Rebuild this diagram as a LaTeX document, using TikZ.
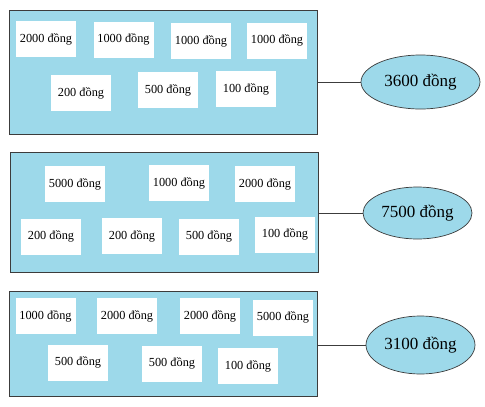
\documentclass[tikz,border=0pt]{standalone}
\usepackage{fontspec}
\setmainfont{Liberation Serif}
\usetikzlibrary{shapes.geometric}
\definecolor{panelblue}{RGB}{157,217,234}
\definecolor{edgegray}{RGB}{60,60,60}
\tikzset{
  panel/.style={draw=edgegray, line width=0.9pt, fill=panelblue, inner sep=0pt},
  coin/.style={fill=white, inner sep=0pt, minimum width=60pt, minimum height=36pt, font=\fontsize{12.3}{14}\selectfont},
  total/.style={ellipse, draw=edgegray, line width=0.7pt, fill=panelblue, inner sep=0pt, font=\fontsize{17}{20}\selectfont},
  link/.style={draw=edgegray, line width=0.9pt}
}
\begin{document}
\begin{tikzpicture}[x=1pt,y=-1pt]
\useasboundingbox (0,0) rectangle (485,407);
% panel 1
\node[panel, minimum width=308pt, minimum height=124pt] (p1) at (163,72) {};
\node[coin] (a1) at (46,39) {2000 đồng};
\node[coin] (a2) at (123.5,39.5) {1000 đồng};
\node[coin] (a3) at (201,41) {1000 đồng};
\node[coin] (a4) at (277,40.5) {1000 đồng};
\node[coin] (a5) at (81,93) {200 đồng};
\node[coin] (a6) at (168,90) {500 đồng};
\node[coin] (a7) at (246,89) {100 đồng};
\node[total, minimum width=119pt, minimum height=54pt] (e1) at (420.5,82) {3600 đồng};
\draw[link] (e1.west -| p1.east) -- (e1.west);
% panel 2
\node[panel, minimum width=308pt, minimum height=120pt] (p2) at (164,212) {};
\node[coin] (b1) at (75,184) {5000 đồng};
\node[coin] (b2) at (179,183) {1000 đồng};
\node[coin] (b3) at (265,184) {2000 đồng};
\node[coin] (b4) at (51,236.5) {200 đồng};
\node[coin] (b5) at (132,236) {200 đồng};
\node[coin] (b6) at (209,236.5) {500 đồng};
\node[coin] (b7) at (285,234.5) {100 đồng};
\node[total, minimum width=109pt, minimum height=52pt] (e2) at (417.5,213) {7500 đồng};
\draw[link] (e2.west -| p2.east) -- (e2.west);
% panel 3
\node[panel, minimum width=308pt, minimum height=105pt] (p3) at (163,343.5) {};
\node[coin] (c1) at (45.5,316) {1000 đồng};
\node[coin] (c2) at (127,316) {2000 đồng};
\node[coin] (c3) at (210,316) {2000 đồng};
\node[coin] (c4) at (283,317.5) {5000 đồng};
\node[coin] (c5) at (78,362.5) {500 đồng};
\node[coin] (c6) at (172,363.5) {500 đồng};
\node[coin] (c7) at (248,366) {100 đồng};
\node[total, minimum width=109pt, minimum height=58pt] (e3) at (420.5,345) {3100 đồng};
\draw[link] (e3.west -| p3.east) -- (e3.west);
\end{tikzpicture}
\end{document}
